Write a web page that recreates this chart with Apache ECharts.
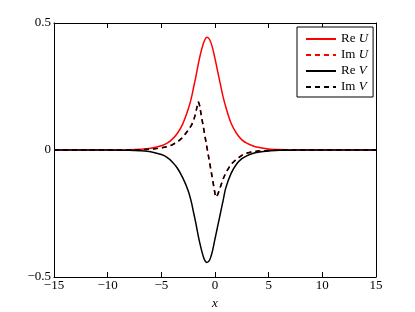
<!DOCTYPE html>
<html>
<head>
<meta charset="utf-8">
<script src="https://cdn.jsdelivr.net/npm/echarts@6/dist/echarts.min.js"></script>
<style>html,body{margin:0;padding:0;background:#fff;}#c{width:415px;height:312px;}</style>
</head>
<body>
<div id="c"></div>
<script>
var xValues = [-15, -12, -10, -8, -7, -6, -5, -4.5, -4, -3.5, -3, -2.5, -2.2, -2, -1.8, -1.65, -1.55, -1.45, -1.25, -1, -0.75, -0.5, -0.25, 0, 0.1, 0.25, 0.5, 0.75, 1, 1.5, 2, 2.5, 3, 3.5, 4, 5, 6, 7, 8, 10, 12, 15];
var reU = [0, 0, 0.0002, 0.001, 0.0026, 0.0065, 0.017, 0.026, 0.042, 0.066, 0.103, 0.16, 0.205, 0.245, 0.285, 0.318, 0.34, 0.36, 0.395, 0.429, 0.444, 0.435, 0.405, 0.36, 0.34, 0.309, 0.259, 0.21, 0.17, 0.105, 0.066, 0.04, 0.026, 0.017, 0.011, 0.0043, 0.0017, 0.0007, 0.0003, 0, 0, 0];
var imV = [0, 0, 0, 0.0005, 0.001, 0.003, 0.008, 0.013, 0.02, 0.032, 0.05, 0.078, 0.097, 0.115, 0.145, 0.175, 0.19, 0.178, 0.13, 0.07, 0.01, -0.05, -0.11, -0.172, -0.186, -0.176, -0.146, -0.115, -0.09, -0.056, -0.036, -0.021, -0.012, -0.007, -0.004, -0.0015, -0.0005, -0.0002, 0, 0, 0, 0];
var imU = [0, 0, 0, 0.0005, 0.001, 0.003, 0.008, 0.013, 0.02, 0.032, 0.05, 0.078, 0.097, 0.115, 0.145, 0.175, 0.19, 0.178, 0.13, 0.07, 0.01, -0.05, -0.11, -0.172, -0.186, -0.176, -0.146, -0.115, -0.09, -0.056, -0.036, -0.021, -0.012, -0.007, -0.004, -0.0015, -0.0005, -0.0002, 0, 0, 0, 0];
var reV = [0, 0, -0.0002, -0.001, -0.003, -0.007, -0.018, -0.028, -0.046, -0.072, -0.11, -0.16, -0.205, -0.245, -0.285, -0.318, -0.34, -0.36, -0.395, -0.43, -0.443, -0.433, -0.4, -0.35, -0.33, -0.3, -0.25, -0.2, -0.15, -0.092, -0.056, -0.034, -0.022, -0.014, -0.009, -0.0035, -0.0013, -0.0005, -0.0002, 0, 0, 0];
var xTicks = {min: -15, max: 15, interval: 5};
var yTicks = {min: -0.5, max: 0.5, interval: 0.5};

function pairs(ys){ return xValues.map(function(x,i){ return [x, ys[i]]; }); }
function fmt(v){ return String(v).replace('-', '\u2212'); }

var font = 'Liberation Serif';
var axisLine = {show: true, onZero: false, lineStyle: {color: '#000', width: 1}};
var tick = {show: true, inside: true, length: 5, lineStyle: {color: '#000', width: 1}};

var chart = echarts.init(document.getElementById('c'), null, {renderer: 'canvas'});
chart.setOption({
  animation: false,
  backgroundColor: '#fff',
  grid: {left: 54, right: 39, top: 23, bottom: 35, containLabel: false, outerBoundsMode: 'none'},
  xAxis: [
    {type: 'value', min: xTicks.min, max: xTicks.max, interval: xTicks.interval, position: 'bottom',
     name: 'x', nameLocation: 'middle', nameGap: 17,
     nameTextStyle: {fontFamily: font, fontSize: 13, fontStyle: 'italic', color: '#000'},
     axisLine: axisLine, axisTick: tick, splitLine: {show: false},
     axisLabel: {fontFamily: font, fontSize: 13, color: '#000', margin: 2, formatter: fmt}},
    {type: 'value', min: xTicks.min, max: xTicks.max, interval: xTicks.interval, position: 'top',
     axisLine: axisLine, axisTick: tick, splitLine: {show: false}, axisLabel: {show: false}}
  ],
  yAxis: [
    {type: 'value', min: yTicks.min, max: yTicks.max, interval: yTicks.interval, position: 'left',
     axisLine: axisLine, axisTick: tick, splitLine: {show: false},
     axisLabel: {fontFamily: font, fontSize: 13, color: '#000', margin: 3, formatter: fmt}},
    {type: 'value', min: yTicks.min, max: yTicks.max, interval: yTicks.interval, position: 'right',
     axisLine: axisLine, axisTick: tick, splitLine: {show: false}, axisLabel: {show: false}}
  ],
  legend: {
    orient: 'vertical', left: 297, top: 27,
    backgroundColor: '#fff', borderColor: '#000', borderWidth: 1, borderRadius: 0,
    padding: [5, 5, 3, 8], itemWidth: 30, itemHeight: 14, itemGap: 2,
    itemStyle: {color: 'rgba(0,0,0,0)', borderColor: 'rgba(0,0,0,0)', borderWidth: 0, opacity: 0},
    data: ['Re U', 'Im U', 'Re V', 'Im V'],
    formatter: function(n){ var p = n.split(' '); return p[0] + ' {i|' + p[1] + '}'; },
    textStyle: {fontFamily: font, fontSize: 13, color: '#000', lineHeight: 14,
      rich: {i: {fontFamily: font, fontSize: 13, fontStyle: 'italic', color: '#000', lineHeight: 14}}}
  },
  series: [
    {name: 'Re U', type: 'line', data: pairs(reU), showSymbol: false, symbol: 'none', smooth: 0.3,
     lineStyle: {color: '#ff0000', width: 1.5, type: 'solid'}, itemStyle: {color: '#ff0000'}},
    {name: 'Im U', type: 'line', data: pairs(imU), showSymbol: false, symbol: 'none',
     lineStyle: {color: '#ff0000', width: 1.5, type: [5, 4]}, itemStyle: {color: '#ff0000'}},
    {name: 'Re V', type: 'line', data: pairs(reV), showSymbol: false, symbol: 'none', smooth: 0.3,
     lineStyle: {color: '#000', width: 1.5, type: 'solid'}, itemStyle: {color: '#000'}},
    {name: 'Im V', type: 'line', data: pairs(imV), showSymbol: false, symbol: 'none',
     lineStyle: {color: '#000', width: 1.5, type: [5, 4]}, itemStyle: {color: '#000'}}
  ]
});
</script>
</body>
</html>
